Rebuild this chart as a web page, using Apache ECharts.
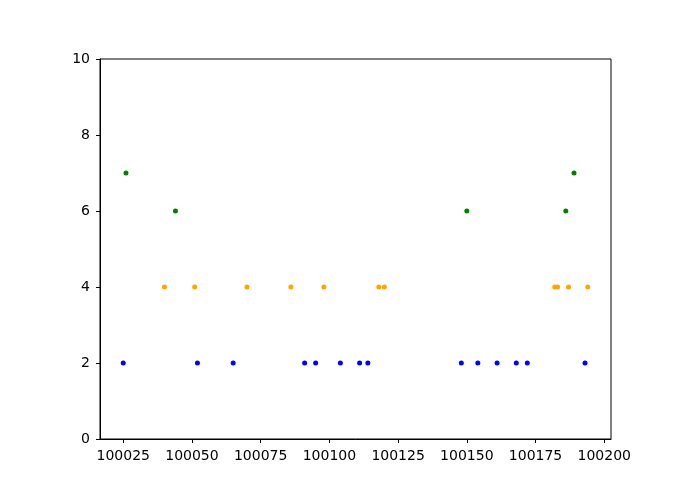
<!DOCTYPE html>
<html>
<head>
<meta charset="utf-8">
<script src="https://cdn.jsdelivr.net/npm/echarts@6/dist/echarts.min.js"></script>
<style>
  html, body { margin: 0; padding: 0; background: #fff; }
  #chart { width: 695px; height: 494px; }
</style>
</head>
<body>
<div id="chart"></div>
<script>
// points, [x, y]
const bluePoints = [
  [100025, 2], [100052, 2], [100065, 2], [100091, 2], [100095, 2],
  [100104, 2], [100111, 2], [100114, 2], [100148, 2], [100154, 2],
  [100161, 2], [100168, 2], [100172, 2], [100193, 2]
]
const orangePoints = [
  [100040, 4], [100051, 4], [100070, 4], [100086, 4], [100098, 4],
  [100118, 4], [100120, 4], [100182, 4], [100183, 4], [100187, 4], [100194, 4]
]
const greenPoints = [
  [100026, 7], [100044, 6], [100150, 6], [100186, 6], [100189, 7]
]
const xTicks = [100025, 100050, 100075, 100100, 100125, 100150, 100175, 100200]

const font = 'DejaVu Sans'

const myChart = echarts.init(document.getElementById('chart'))

function scatter(data, color) {
  return {
    type: 'scatter',
    data: data,
    symbolSize: 5,
    itemStyle: { color: color, opacity: 1 },
    emphasis: { disabled: true }
  }
}

let option = {
  animation: false,
  grid: {
    left: 100, right: 84, top: 59, bottom: 55,
    show: true, borderColor: '#000', borderWidth: 1
  },
  xAxis: {
    type: 'value',
    min: 100016.55,
    max: 100202.45,
    splitLine: { show: false },
    axisLine: { lineStyle: { color: '#000' } },
    axisTick: { length: 4, lineStyle: { color: '#000' }, customValues: xTicks },
    axisLabel: {
      color: '#000', fontFamily: font, fontSize: 14, margin: 10,
      customValues: xTicks,
      formatter: v => String(v)
    }
  },
  yAxis: {
    type: 'value',
    min: 0,
    max: 10,
    interval: 2,
    splitLine: { show: false },
    axisLine: { show: true, lineStyle: { color: '#000' } },
    axisTick: { show: true, length: 4, lineStyle: { color: '#000' } },
    axisLabel: { color: '#000', fontFamily: font, fontSize: 14, margin: 10 }
  },
  series: [
    scatter(bluePoints, '#0000ff'),
    scatter(orangePoints, '#ffa500'),
    scatter(greenPoints, '#008000')
  ]
}

myChart.setOption(option)
</script>
</body>
</html>
